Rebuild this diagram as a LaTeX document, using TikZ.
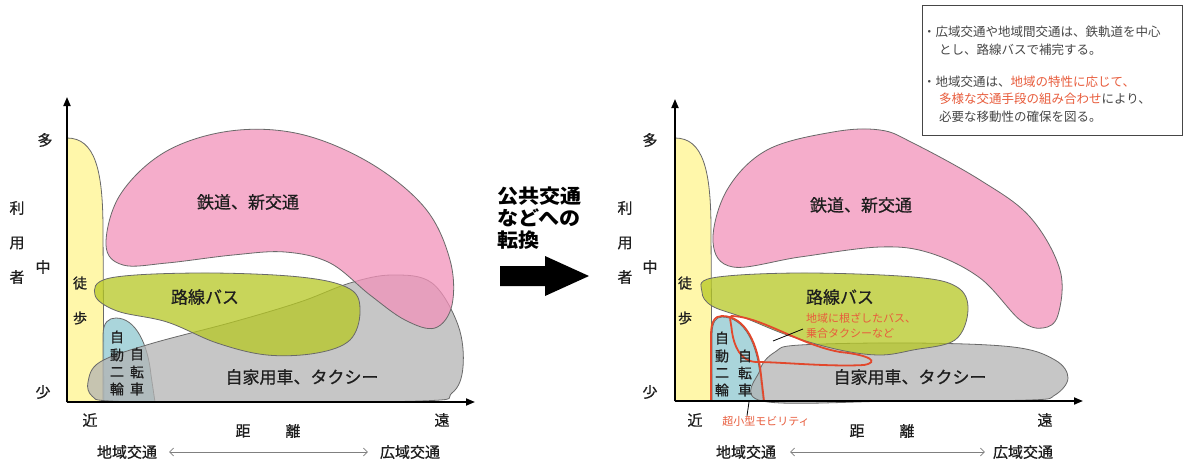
\documentclass[tikz,border=0pt]{standalone}
\usepackage{fontspec}
\setmainfont{Noto Sans CJK JP}
\newfontfamily\medfont{Noto Sans CJK JP}[FakeBold=0.7]
\usetikzlibrary{arrows.meta}
\definecolor{pinkF}{RGB}{242,146,186}
\definecolor{greenF}{RGB}{182,200,35}
\definecolor{grayF}{RGB}{179,179,179}
\definecolor{blueF}{RGB}{142,200,208}
\definecolor{yellowF}{RGB}{255,247,170}
\definecolor{outl}{RGB}{105,105,105}
\definecolor{txt}{RGB}{30,30,30}
\definecolor{redL}{RGB}{226,72,44}
\definecolor{redT}{RGB}{232,92,60}
\definecolor{boxT}{RGB}{70,70,70}
\begin{document}
\begin{tikzpicture}[x=1pt,y=-1pt,
  area/.style={draw=outl,line width=0.8pt,fill opacity=0.75},
  lbl/.style={font=\medfont\fontsize{15}{15}\selectfont,text=txt,inner sep=0pt},
  big/.style={font=\medfont\fontsize{17}{17}\selectfont,text=txt,inner sep=0pt},
  sml/.style={font=\medfont\fontsize{14}{14}\selectfont,text=txt,inner sep=0pt},
  redlbl/.style={font=\fontsize{11}{11}\selectfont,text=redT,inner sep=0pt},
  boxtxt/.style={font=\fontsize{12.5}{12.5}\selectfont,text=boxT,inner sep=0pt,anchor=west},
  axis/.style={line width=1.8pt,-{Triangle[length=9pt,width=7pt]}},
  dist/.style={draw=gray,line width=0.6pt,{Straight Barb[length=4pt,width=8pt]}-{Straight Barb[length=4pt,width=8pt]}},
  redline/.style={draw=redL,line width=1.8pt},
  leader/.style={draw=black,line width=0.8pt}]
\useasboundingbox[fill=white] (0,0) rectangle (1184,463);

% ================= LEFT CHART =================
\fill[yellowF,draw=outl,line width=0.8pt] (67,402) -- (67,138) .. controls (95,138) and (103,170) .. (103,230) -- (104,402) -- cycle;
\path[area,fill=blueF] (103,402) -- (103,335) .. controls (103,322) and (109,318) .. (116,318) .. controls (136,318) and (148,345) .. (151,375) -- (155,402) -- cycle;
\path[area,fill=grayF] plot[smooth cycle,tension=0.6] coordinates {(88,382) (100,362) (150,344) (233,322) (300,302) (350,283) (392,275) (432,283) (458,325) (463,367) (452,393) (420,401) (200,402) (110,401) (92,396)};
\path[area,fill=greenF] plot[smooth cycle,tension=0.6] coordinates {(95,295) (110,278) (200,273) (300,277) (350,289) (360,312) (350,340) (317,353) (267,355) (217,343) (167,322) (117,311)};
\path[area,fill=pinkF] plot[smooth cycle,tension=0.6] coordinates {(106,245) (120,195) (165,152) (230,131) (300,134) (370,163) (425,208) (450,260) (452,305) (435,328) (405,320) (370,295) (330,263) (285,252) (233,255) (167,263) (123,265)};

\coordinate (oL) at (67,402);
\coordinate (yL) at (67,97);
\coordinate (xL) at (475,402);
\draw[axis] (oL) -- (yL);
\draw[axis] (oL) -- (xL);

\node[lbl] (L-many) at (45,140) {多};
\node[lbl] (L-mid) at (43,267) {中};
\node[lbl] (L-few) at (43,392) {少};
\node[lbl] (L-ri) at (17,208) {利};
\node[lbl] (L-you) at (17,243) {用};
\node[lbl] (L-sha) at (17,277) {者};
\node[lbl] (L-near) at (90,420) {近};
\node[lbl] (L-far) at (442,420) {遠};
\node[lbl] (L-kyo) at (243,431) {距};
\node[lbl] (L-ri2) at (293,431) {離};
\node[lbl] (L-loc) at (127,452) {地域交通};
\node[lbl] (L-wide) at (410,452) {広域交通};
\draw[dist] ([xshift=12pt]L-loc.east) -- ([xshift=-12pt]L-wide.west);

\node[big] (L-rail) at (248,202) {鉄道、新交通};
\node[big] (L-bus) at (205,297) {路線バス};
\node[big] (L-car) at (302,377) {自家用車、タクシー};
\node[sml] (L-to) at (80,283) {徒};
\node[sml] (L-ho) at (80,318) {歩};
\node[sml] (L-m1) at (117,337) {自};
\node[sml] (L-m2) at (117,355) {動};
\node[sml] (L-m3) at (117,372) {二};
\node[sml] (L-m4) at (117,389) {輪};
\node[sml] (L-b1) at (137,354) {自};
\node[sml] (L-b2) at (137,372) {転};
\node[sml] (L-b3) at (137,389) {車};

% ================= MIDDLE =================
\node[font=\bfseries\fontsize{19.5}{22}\selectfont,text=black,inner sep=0pt,anchor=north west,align=left,xscale=1.08] (mid) at (497,187) {公共交通\\などへの\\転換};
\fill[black] (500,266) -- (545,266) -- (545,256) -- (589,276) -- (545,296) -- (545,286) -- (500,286) -- cycle;

% ================= RIGHT CHART =================
\fill[yellowF,draw=outl,line width=0.8pt] (675,401) -- (675,138) .. controls (703,138) and (711,170) .. (711,230) -- (712,401) -- cycle;
\path[area,fill=blueF] (712,401) -- (712,335) .. controls (712,322) and (716,317) .. (722,317) .. controls (745,317) and (757,345) .. (760,375) -- (763,401) -- cycle;
\path[area,fill=grayF] plot[smooth cycle,tension=0.6] coordinates {(762,401) (760,370) (775,352) (800,345) (913,343) (1013,347) (1055,360) (1068,378) (1055,395) (1030,400) (900,401)};
\path[area,fill=greenF] plot[smooth cycle,tension=0.6] coordinates {(702,292) (712,278) (800,273) (913,277) (957,287) (968,310) (955,340) (913,350) (880,355) (840,350) (790,336) (745,318) (712,306)};
\path[area,fill=pinkF] plot[smooth cycle,tension=0.6] coordinates {(713,242) (727,190) (767,150) (833,132) (880,130) (913,143) (980,180) (1030,217) (1060,270) (1058,315) (1043,328) (1020,320) (980,278) (930,253) (880,247) (800,257) (733,267)};

% red outlines
\draw[redline] (711,401) -- (711,335) .. controls (711,321) and (715,316) .. (722,316) .. controls (746,316) and (758,345) .. (761,375) -- (764,401) -- cycle;
\draw[redline] (731,316) .. controls (760,316) and (800,345) .. (840,352) .. controls (870,355) and (880,362) .. (864,365) .. controls (830,367) and (780,362) .. (757,362) .. controls (740,362) and (734,345) .. (732,332) .. controls (731,322) and (729,317) .. (731,316);

\coordinate (oR) at (675,401);
\coordinate (yR) at (675,99);
\coordinate (xR) at (1083,401);
\draw[axis] (oR) -- (yR);
\draw[axis] (oR) -- (xR);

\node[lbl] (R-many) at (650,140) {多};
\node[lbl] (R-mid) at (650,267) {中};
\node[lbl] (R-few) at (650,392) {少};
\node[lbl] (R-ri) at (625,208) {利};
\node[lbl] (R-you) at (625,243) {用};
\node[lbl] (R-sha) at (625,277) {者};
\node[lbl] (R-near) at (695,420) {近};
\node[lbl] (R-far) at (1045,420) {遠};
\node[lbl] (R-kyo) at (857,431) {距};
\node[lbl] (R-ri2) at (907,431) {離};
\node[lbl] (R-loc) at (746,452) {地域交通};
\node[lbl] (R-wide) at (1023,452) {広域交通};
\draw[dist] ([xshift=14pt]R-loc.east) -- ([xshift=-8pt]R-wide.west);

\node[big] (R-rail) at (861,205) {鉄道、新交通};
\node[big] (R-bus) at (840,297) {路線バス};
\node[big] (R-car) at (910,377) {自家用車、タクシー};
\node[sml] (R-to) at (685,283) {徒};
\node[sml] (R-ho) at (685,318) {歩};
\node[sml] (R-m1) at (722,338) {自};
\node[sml] (R-m2) at (722,356) {動};
\node[sml] (R-m3) at (722,373) {二};
\node[sml] (R-m4) at (722,390) {輪};
\node[sml] (R-b1) at (745,356) {自};
\node[sml] (R-b2) at (745,373) {転};
\node[sml] (R-b3) at (745,390) {車};

\node[redlbl,anchor=west] (R-local1) at (806,318) {地域に根ざしたバス、};
\node[redlbl,anchor=west] (R-local2) at (806,333) {乗合タクシーなど};
\coordinate (R-lp) at (773,341);
\draw[leader] (R-lp) -- ([xshift=-3pt,yshift=4pt]R-local2.west);
\node[redlbl] (R-micro) at (766,421) {超小型モビリティ};
\coordinate (R-mp) at (749,402);
\draw[leader] (R-mp) -- ([xshift=-19pt]R-micro.north);

% ================= NOTE BOX =================
\node[draw=boxT,line width=1.2pt,fill=white,minimum width=260pt,minimum height=130pt,anchor=north west,inner sep=0pt] (box) at (922,5) {};
\node[boxtxt] (t1) at (923,32) {・広域交通や地域間交通は、鉄軌道を中心};
\node[boxtxt] (t2) at (939,50) {とし、路線バスで補完する。};
\node[boxtxt] (t3) at (923,82) {・地域交通は、\textcolor{redT}{地域の特性に応じて、}};
\node[boxtxt] (t4) at (939,99) {\textcolor{redT}{多様な交通手段の組み合わせ}により、};
\node[boxtxt] (t5) at (939,117) {必要な移動性の確保を図る。};
\end{tikzpicture}
\end{document}
